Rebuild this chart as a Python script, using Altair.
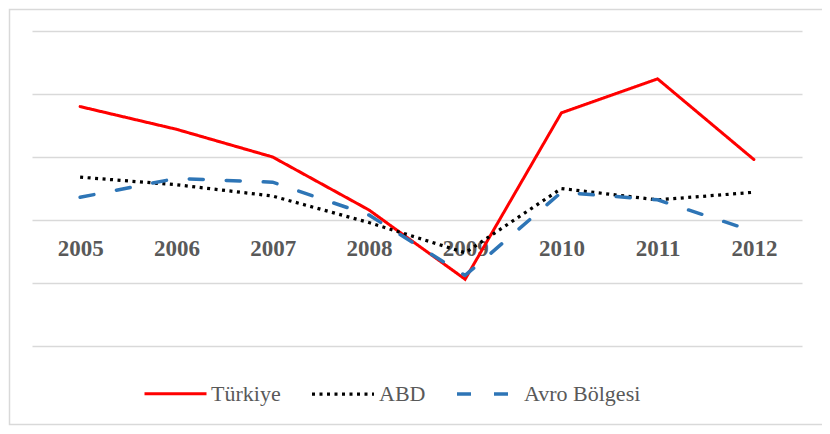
import altair as alt
import pandas as pd

years = ["2005", "2006", "2007", "2008", "2009", "2010", "2011", "2012"]
turkiye = [9.0, 7.2, 5.0, 0.8, -4.7, 8.5, 11.2, 4.8]
abd = [3.4, 2.8, 1.9, -0.2, -2.6, 2.5, 1.6, 2.2]
avro = [1.8, 3.3, 3.0, 0.4, -4.4, 2.2, 1.6, -0.9]

series_names = ["Türkiye", "ABD", "Avro Bölgesi"]
series_colors = ["#FF0000", "#000000", "#2E75B6"]
series_dash = [[1, 0], [3, 4.5], [14, 23]]
series_width = [3, 3.5, 5]
grid_values = [-10, -5, 0, 5, 10, 15]

rows = []
for name, vals in zip(series_names, [turkiye, abd, avro]):
    for y, v in zip(years, vals):
        rows.append({"year": y, "value": v, "series": name})
df = pd.DataFrame(rows)

FONT = "Liberation Serif"

legend_def = alt.Legend(
    title=None, orient="none", legendX=111, legendY=330,
    direction="horizontal", symbolType="stroke", symbolSize=3844,
    labelFont=FONT, labelFontSize=22, labelColor="#595959",
    labelOffset=3, columnPadding=24, padding=0,
)

x_enc = alt.X(
    "year:O",
    scale=alt.Scale(type="point", padding=0.5),
    axis=alt.Axis(
        orient="bottom", offset=-126, domain=False, ticks=False, tickSize=0,
        labelPadding=17, labelFont=FONT, labelFontWeight="bold",
        labelFontSize=23, labelColor="#595959", labelAngle=0, title=None,
        grid=False,
    ),
)
y_enc = alt.Y(
    "value:Q",
    scale=alt.Scale(domain=[-10, 15], nice=False, zero=False),
    axis=alt.Axis(
        values=grid_values, labels=False, ticks=False, domain=False,
        title=None, gridColor="#D9D9D9", gridWidth=1.5,
    ),
)
color_enc = alt.Color(
    "series:N",
    scale=alt.Scale(domain=series_names, range=series_colors),
    legend=legend_def,
)
dash_enc = alt.StrokeDash(
    "series:N",
    scale=alt.Scale(domain=series_names, range=series_dash),
    legend=legend_def,
)
width_enc = alt.StrokeWidth(
    "series:N",
    scale=alt.Scale(domain=series_names, range=series_width),
    legend=legend_def,
)

base = alt.Chart(df).encode(
    x=x_enc, y=y_enc, color=color_enc, strokeDash=dash_enc, strokeWidth=width_enc,
    order=alt.Order("year:O"),
)

tr_layer = base.transform_filter(alt.datum.series == "Türkiye").mark_line(strokeCap="round", strokeJoin="miter")
abd_layer = base.transform_filter(alt.datum.series == "ABD").mark_line(strokeCap="butt")
avro_layer = base.transform_filter(alt.datum.series == "Avro Bölgesi").mark_line(strokeCap="round")

border = alt.Chart(alt.Data(values=[{}])).mark_rect(
    fillOpacity=0, stroke="#D9D9D9", strokeWidth=1.5
).encode(
    x=alt.value(-22.5), x2=alt.value(810), y=alt.value(-21.5), y2=alt.value(393.5)
)

chart = alt.layer(border, tr_layer, abd_layer, avro_layer).properties(
    width=770, height=315,
    padding={"left": 24, "top": 23, "right": 20, "bottom": 80},
    autosize="none",
    background="white",
).configure_view(stroke=None).configure_legend(
    labelFont=FONT, labelFontSize=22, labelColor="#595959",
    symbolType="stroke", symbolSize=3844, labelOffset=3, columnPadding=24,
    padding=0,
)

chart.save("out.html", embed_options={"renderer": "svg", "actions": False})
